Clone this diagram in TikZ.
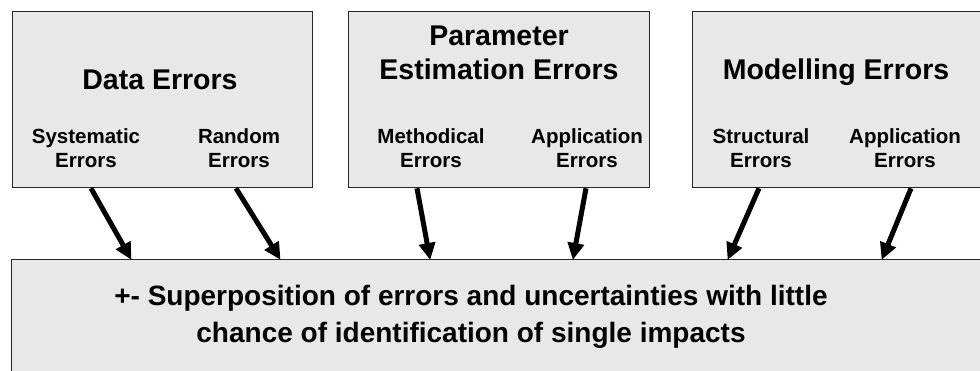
\documentclass[tikz,border=0pt]{standalone}
\usepackage{fontspec}
\setmainfont{Liberation Sans}
\usetikzlibrary{arrows.meta}
\definecolor{boxfill}{HTML}{E8E8E8}
\definecolor{boxline}{HTML}{262626}
\tikzset{
  panel/.style={draw=boxline, line width=1.3pt, fill=boxfill, rectangle, inner sep=0pt, anchor=north west},
  title/.style={anchor=base, align=center, font=\bfseries\fontsize{28.5}{34}\selectfont, inner sep=0pt},
  sublabel/.style={anchor=base, align=center, font=\bfseries\fontsize{20.5}{23.5}\selectfont, inner sep=0pt},
  bottomtext/.style={anchor=base, align=center, font=\bfseries\fontsize{28}{37}\selectfont, inner sep=0pt},
  flow/.style={line width=5pt, -{Triangle[width=16pt,length=17pt]}, shorten >=-1pt}
}
\begin{document}
\begin{tikzpicture}[x=1pt,y=-1pt]
\useasboundingbox (0,0) rectangle (980,370);
\clip (0,0) rectangle (980,370);
% panels
\node[panel, minimum width=300pt, minimum height=176pt] (data) at (12,11) {};
\node[panel, minimum width=301pt, minimum height=176pt] (param) at (348,11) {};
\node[panel, minimum width=310pt, minimum height=176pt] (model) at (692,11) {};
\node[panel, minimum width=990pt, minimum height=130pt] (super) at (11,259) {};
% titles (base anchor = baseline of last line)
\node[title] (tdata) at (160,89) {Data Errors};
\node[title] (tparam) at (499,79) {Parameter\\Estimation Errors};
\node[title] (tmodel) at (836,79) {Modelling Errors};
% sublabels
\node[sublabel] (sys) at (86,167) {Systematic\\Errors};
\node[sublabel] (rnd) at (239,167) {Random\\Errors};
\node[sublabel] (meth) at (431,167) {Methodical\\Errors};
\node[sublabel] (app1) at (587,167) {Application\\Errors};
\node[sublabel] (struc) at (761,167) {Structural\\Errors};
\node[sublabel] (app2) at (905,167) {Application\\Errors};
% bottom text
\node[bottomtext] (tsuper) at (471,342) {+- Superposition of errors and uncertainties with little\\chance of identification of single impacts};
% arrows
\draw[flow] ([xshift=79pt]data.south west) -- ([xshift=120pt]super.north west);
\draw[flow] ([xshift=224pt]data.south west) -- ([xshift=269pt]super.north west);
\draw[flow] ([xshift=69pt]param.south west) -- ([xshift=419pt]super.north west);
\draw[flow] ([xshift=238pt]param.south west) -- ([xshift=562pt]super.north west);
\draw[flow] ([xshift=67pt]model.south west) -- ([xshift=717pt]super.north west);
\draw[flow] ([xshift=219pt]model.south west) -- ([xshift=871pt]super.north west);
\end{tikzpicture}
\end{document}
